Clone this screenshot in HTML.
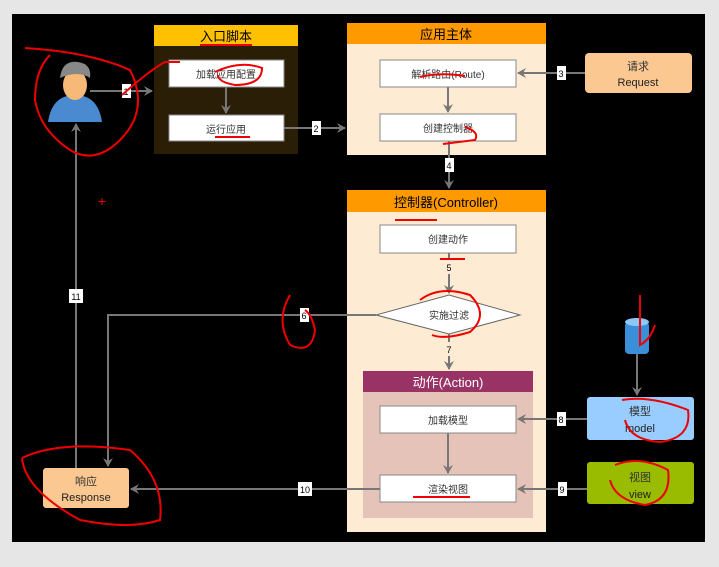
<!DOCTYPE html>
<html><head><meta charset="utf-8"><style>
body{margin:0;width:719px;height:562px;background:#e6e6e6;overflow:hidden;font-family:"Liberation Sans","Noto Sans CJK SC",sans-serif}
</style></head><body>
<svg width="719" height="562" xmlns="http://www.w3.org/2000/svg" font-family="Liberation Sans, Noto Sans CJK SC, sans-serif">
<defs><marker id="a" markerWidth="10" markerHeight="10" refX="8" refY="5" orient="auto" markerUnits="userSpaceOnUse"><path d="M0,0 L9,5 L0,10 L3,5z" fill="#777"/></marker></defs>
<rect x="12" y="14" width="693" height="528" fill="#000"/>
<rect x="154" y="25" width="144" height="129" fill="#2a1f06"/>
<rect x="154" y="25" width="144" height="21" fill="#ffc000"/>
<text x="226" y="41" font-size="13" text-anchor="middle" fill="#000">入口脚本</text>
<rect x="169" y="60" width="115" height="27" fill="#fff" stroke="#888"/>
<text x="226" y="78" font-size="10" text-anchor="middle" fill="#333">加载应用配置</text>
<rect x="169" y="115" width="115" height="26" fill="#fff" stroke="#888"/>
<text x="226" y="133" font-size="10" text-anchor="middle" fill="#333">运行应用</text>
<rect x="347" y="23" width="199" height="132" fill="#fdebd3"/>
<rect x="347" y="23" width="199" height="21" fill="#ff9900"/>
<text x="446" y="39" font-size="13" text-anchor="middle" fill="#000">应用主体</text>
<rect x="380" y="60" width="136" height="27" fill="#fff" stroke="#888"/>
<text x="448" y="78" font-size="10" text-anchor="middle" fill="#333">解析路由(Route)</text>
<rect x="380" y="114" width="136" height="27" fill="#fff" stroke="#888"/>
<text x="448" y="132" font-size="10" text-anchor="middle" fill="#333">创建控制器</text>
<rect x="585" y="53" width="107" height="40" rx="4" fill="#fbc891"/>
<text x="638" y="70" font-size="11" text-anchor="middle" fill="#333">请求</text>
<text x="638" y="86" font-size="11" text-anchor="middle" fill="#222">Request</text>
<rect x="347" y="190" width="199" height="342" fill="#fdebd3"/>
<rect x="347" y="190" width="199" height="22" fill="#ff9900"/>
<text x="446" y="207" font-size="13" text-anchor="middle" fill="#000">控制器(Controller)</text>
<rect x="380" y="225" width="136" height="28" fill="#fff" stroke="#888"/>
<text x="448" y="243" font-size="10" text-anchor="middle" fill="#333">创建动作</text>
<polygon points="376,315 449,295 520,315 449,334" fill="#fff" stroke="#666"/>
<text x="449" y="319" font-size="10" text-anchor="middle" fill="#333">实施过滤</text>
<rect x="363" y="371" width="170" height="147" fill="#e6c3b8"/>
<rect x="363" y="371" width="170" height="21" fill="#993366"/>
<text x="448" y="387" font-size="13" text-anchor="middle" fill="#fff">动作(Action)</text>
<rect x="380" y="406" width="136" height="27" fill="#fff" stroke="#888"/>
<text x="448" y="424" font-size="10" text-anchor="middle" fill="#333">加载模型</text>
<rect x="380" y="475" width="136" height="27" fill="#fff" stroke="#888"/>
<text x="448" y="493" font-size="10" text-anchor="middle" fill="#333">渲染视图</text>
<rect x="587" y="397" width="107" height="43" rx="3" fill="#99ccff"/>
<text x="640" y="415" font-size="11" text-anchor="middle" fill="#333">模型</text>
<text x="640" y="432" font-size="11" text-anchor="middle" fill="#222">model</text>
<rect x="587" y="462" width="107" height="42" rx="3" fill="#99bb00"/>
<text x="640" y="481" font-size="11" text-anchor="middle" fill="#333">视图</text>
<text x="640" y="498" font-size="11" text-anchor="middle" fill="#222">view</text>
<rect x="625" y="322" width="24" height="32" rx="4" fill="#3a8fd8"/>
<ellipse cx="637" cy="322" rx="12" ry="4" fill="#8cc8f5"/>
<rect x="43" y="468" width="86" height="40" rx="3" fill="#fbc891"/>
<text x="86" y="485" font-size="11" text-anchor="middle" fill="#333">响应</text>
<text x="86" y="501" font-size="11" text-anchor="middle" fill="#222">Response</text>
<path d="M48,122 Q52,95 75,95 Q98,95 102,122z" fill="#4a8ad0"/>
<ellipse cx="75" cy="85" rx="12" ry="15" fill="#f6b977"/>
<path d="M60,78 Q62,60 78,62 Q92,64 90,78 Q78,70 60,78z" fill="#888"/>
<g stroke="#777" stroke-width="2" fill="none" marker-end="url(#a)">
<line x1="90" y1="91" x2="152" y2="91"/>
<line x1="226" y1="87" x2="226" y2="113"/>
<line x1="284" y1="128" x2="345" y2="128"/>
<line x1="585" y1="73" x2="518" y2="73"/>
<line x1="448" y1="87" x2="448" y2="112"/>
<line x1="449" y1="141" x2="449" y2="188"/>
<line x1="449" y1="253" x2="449" y2="293"/>
<polyline points="376,315 108,315 108,466"/>
<line x1="449" y1="334" x2="449" y2="369"/>
<line x1="587" y1="419" x2="518" y2="419"/>
<line x1="448" y1="433" x2="448" y2="473"/>
<line x1="587" y1="489" x2="518" y2="489"/>
<line x1="380" y1="489" x2="131" y2="489"/>
<line x1="76" y1="468" x2="76" y2="124"/>
<line x1="637" y1="354" x2="637" y2="395"/>
</g>
<g font-size="9" text-anchor="middle" fill="#000">
<rect x="122" y="84" width="9" height="14" fill="#fff"/><text x="126" y="95">1</text>
<rect x="312" y="121" width="9" height="14" fill="#fff"/><text x="316" y="132">2</text>
<rect x="557" y="66" width="9" height="14" fill="#fff"/><text x="561" y="77">3</text>
<rect x="445" y="158" width="9" height="14" fill="#fff"/><text x="449" y="169">4</text>
<rect x="445" y="260" width="9" height="14" fill="#fdebd3"/><text x="449" y="271">5</text>
<rect x="300" y="308" width="9" height="14" fill="#fff"/><text x="304" y="319">6</text>
<rect x="445" y="342" width="9" height="14" fill="#fdebd3"/><text x="449" y="353">7</text>
<rect x="557" y="412" width="9" height="14" fill="#fff"/><text x="561" y="423">8</text>
<rect x="558" y="482" width="9" height="14" fill="#fff"/><text x="562" y="493">9</text>
<rect x="298" y="482" width="14" height="14" fill="#fff"/><text x="305" y="493">10</text>
<rect x="69" y="289" width="14" height="14" fill="#fff"/><text x="76" y="300">11</text>
</g>
<g stroke="#e00" stroke-width="2" fill="none">
<path d="M25,48 Q90,52 130,70 Q150,110 120,140 Q95,165 70,150 Q40,130 35,100 Q35,70 50,55"/>
<path d="M122,95 Q150,70 165,62 L180,62"/>
<path d="M215,72 Q240,60 262,68 Q262,85 235,85 Q218,82 218,75"/>
<path d="M200,45 L252,45"/><path d="M215,137 L250,137"/>
<path d="M290,295 Q275,320 290,345 Q312,355 315,330 Q312,315 305,310"/>
<path d="M420,300 Q440,285 470,295 Q490,315 470,332 Q445,340 432,335"/>
<path d="M395,220 L437,220"/><path d="M440,259 L465,259"/>
<path d="M420,77 Q440,72 465,76"/><path d="M465,127 Q480,132 475,140 L443,144"/>
<path d="M640,295 L640,345 Q650,340 655,325"/>
<path d="M622,400 Q650,395 688,410 Q692,438 660,442 Q630,440 625,420"/>
<path d="M615,465 Q640,455 668,470 Q672,500 645,505 Q615,500 610,480"/>
<path d="M22,458 Q60,440 130,450 Q165,480 160,520 Q130,530 80,520 Q25,490 22,458"/>
<path d="M413,497 L470,497"/>
</g>
<text x="102" y="206" font-size="14" fill="#e00" text-anchor="middle">+</text>
</svg>
</body></html>
